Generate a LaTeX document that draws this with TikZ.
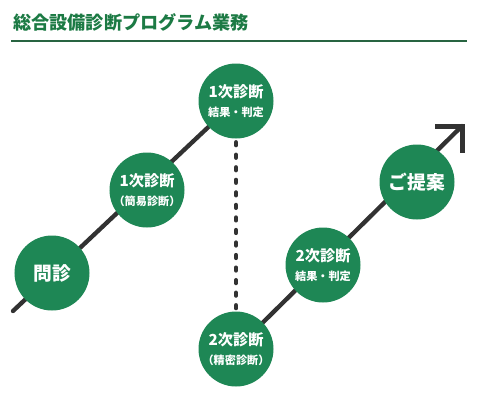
\documentclass[tikz,border=0pt]{standalone}
\usepackage{fontspec}
\newfontfamily\jp{Noto Sans CJK JP}
\usetikzlibrary{arrows.meta,backgrounds}
\definecolor{diaggreen}{RGB}{30,135,85}
\definecolor{titlegreen}{RGB}{28,122,68}
\definecolor{rulegreen}{RGB}{40,100,65}
\definecolor{linegray}{RGB}{50,50,50}

\tikzset{
  stepcirc/.style={circle, fill=diaggreen, text=white, minimum size=2.25cm,
    inner sep=0pt, align=center, font=\jp\bfseries\fontsize{13}{14}\selectfont},
  bigcirc/.style={stepcirc, font=\jp\bfseries\fontsize{16}{18}\selectfont},
  trendline/.style={linegray, line width=0.13cm, line cap=round},
  barbline/.style={linegray, line width=0.15cm, line cap=butt, line join=miter},
  dotline/.style={linegray, line width=0.13cm, line cap=round, dash pattern=on 2.5pt off 8.2pt},
}
\newcommand{\sub}[1]{{\fontsize{9.5}{11}\selectfont #1}}

\begin{document}
\begin{tikzpicture}[x=0.03cm, y=-0.03cm]
  \useasboundingbox (0,0) rectangle (477,410);
  % title
  \node[anchor=west, inner sep=0pt, text=titlegreen, font=\jp\bfseries\fontsize{15.5}{18}\selectfont] (title) at (13,22) {総合設備診断プログラム業務};
  \draw[rulegreen, line width=1.3pt] (11,41) -- (467,41);
  % steps
  \node[bigcirc]  (mon)   at (52,273)  {問診};
  \node[stepcirc] (ichiji) at (147,190) {1次診断\\[2pt]\sub{（簡易診断）}};
  \node[stepcirc] (kekka1) at (236,101) {1次診断\\[2pt]\sub{結果・判定}};
  \node[stepcirc] (niji)   at (236,349) {2次診断\\[2pt]\sub{（精密診断）}};
  \node[stepcirc] (kekka2) at (323,265) {2次診断\\[2pt]\sub{結果・判定}};
  \node[bigcirc]  (teian)  at (417,182) {ご提案};
  \coordinate (start) at (13,311);
  \coordinate (tip) at (462,126);
  % lines behind
  \begin{scope}[on background layer]
    \draw[trendline] (start) -- (kekka1.center);
    \draw[trendline] (niji.center) -- (tip);
  \end{scope}
  \draw[barbline] (tip) +(-27,0) -- (tip) -- +(0,27);
  \draw[dotline] ([yshift=-3pt]kekka1.south) -- ([yshift=2pt]niji.north);
\end{tikzpicture}
\end{document}
